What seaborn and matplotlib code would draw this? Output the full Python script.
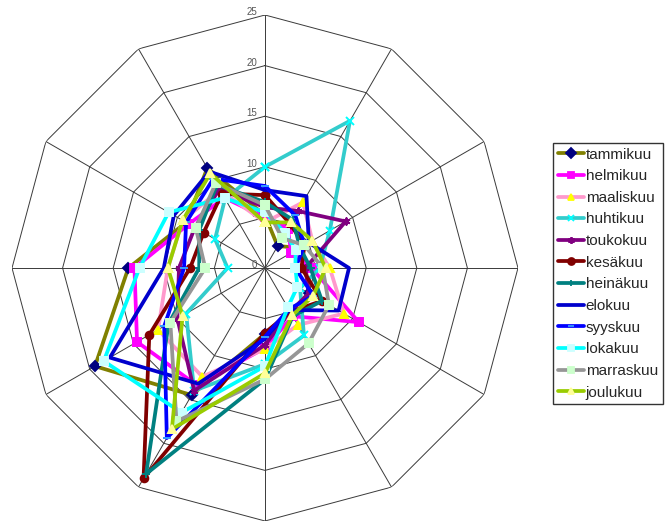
import numpy as np
import pandas as pd
import matplotlib
matplotlib.use("Agg")
import matplotlib.pyplot as plt
from matplotlib.lines import Line2D
from matplotlib.transforms import offset_copy
import seaborn as sns

sns.set_style("white")
plt.rcParams["font.family"] = ["Liberation Sans", "DejaVu Sans"]

# Twelve spokes, no category names shown
n_axes = 12
ring_ticks = [0, 5, 10, 15, 20, 25]

months = ["tammikuu", "helmikuu", "maaliskuu", "huhtikuu", "toukokuu", "kesäkuu",
          "heinäkuu", "elokuu", "syyskuu", "lokakuu", "marraskuu", "joulukuu"]

tammikuu = [5.2, 2.5, 4.0, 4.0, 5.0, 5.0, 6.5, 14.5, 19.4, 13.5, 9.0, 11.4]
helmikuu = [5.0, 4.5, 3.0, 4.6, 10.7, 5.5, 7.9, 13.4, 14.6, 12.9, 8.7, 8.0]
maaliskuu = [4.5, 7.5, 5.4, 6.4, 9.0, 6.5, 8.0, 12.4, 12.2, 9.6, 9.4, 8.9]
huhtikuu = [10.0, 16.8, 7.4, 5.4, 4.0, 7.7, 9.5, 14.0, 9.0, 3.7, 5.7, 7.9]
toukokuu = [6.0, 6.5, 9.2, 4.0, 5.0, 5.0, 7.6, 14.0, 10.0, 8.5, 8.0, 9.0]
kesakuu = [7.2, 5.0, 4.5, 3.6, 6.5, 5.0, 6.4, 24.0, 13.2, 7.4, 7.0, 8.5]
heinakuu = [6.5, 5.5, 4.0, 4.5, 6.5, 5.5, 11.0, 23.5, 11.0, 6.5, 7.5, 9.5]
elokuu = [7.7, 8.2, 5.0, 8.3, 8.4, 4.8, 7.0, 13.2, 17.7, 10.0, 10.4, 11.0]
syyskuu = [8.1, 6.0, 4.5, 3.0, 5.5, 4.7, 6.8, 19.4, 11.5, 8.0, 9.0, 10.2]
lokakuu = [5.5, 4.0, 3.5, 3.0, 3.7, 4.5, 9.7, 16.5, 18.4, 12.4, 11.0, 8.0]
marraskuu = [6.2, 3.4, 4.5, 5.7, 7.3, 8.6, 11.0, 17.5, 10.8, 5.9, 7.9, 9.7]
joulukuu = [4.5, 5.2, 5.4, 6.0, 5.5, 5.4, 10.4, 18.4, 9.4, 9.6, 9.4, 10.8]

series_values = [tammikuu, helmikuu, maaliskuu, huhtikuu, toukokuu, kesakuu,
                 heinakuu, elokuu, syyskuu, lokakuu, marraskuu, joulukuu]

line_colors = ["#808000", "#FF00FF", "#FF99CC", "#33CCCC", "#800080", "#800000",
               "#008080", "#0000CC", "#0000FF", "#00FFFF", "#969696", "#99CC00"]
marker_colors = ["#000080", "#FF00FF", "#FFFF00", "#00FFFF", "#800080", "#800000",
                 "#008080", "#0000CC", "#3399FF", "#CCFFFF", "#CCFFCC", "#FFFF99"]
marker_shapes = ["D", "s", "^", "x", (6, 2, 0), "o", "+", "None", "_", "s", "s", "^"]

angles = np.linspace(0, 2 * np.pi, n_axes, endpoint=False)
angles_closed = np.append(angles, 2 * np.pi)

fig = plt.figure(figsize=(6.66, 5.24), dpi=100)
ax = fig.add_axes([12 / 666, 3 / 524, 506 / 666, 506 / 524], projection="polar")
ax.set_theta_zero_location("N")
ax.set_theta_direction(-1)
ax.set_ylim(0, 25)
ax.grid(False)
ax.set_xticks([])
ax.set_yticks([])
ax.spines["polar"].set_visible(False)
ax.patch.set_alpha(0)

# Polygon rings and spokes
for r in ring_ticks[1:]:
    ax.plot(angles_closed, [r] * len(angles_closed), color="#3a3a3a", lw=0.7, zorder=1)
for a in angles:
    ax.plot([a, a], [0, 25], color="#3a3a3a", lw=0.7, zorder=1)

# Ring value labels along the top spoke
lbl_tr = offset_copy(ax.transData, fig=fig, x=-8, y=3, units="dots")
for r in ring_ticks:
    ax.text(0, r, str(r), transform=lbl_tr, ha="right", va="center",
            fontsize=7, color="#555555")

for name, vals, lc, mc, mk in zip(months, series_values, line_colors,
                                  marker_colors, marker_shapes):
    closed = list(vals) + [vals[0]]
    df = pd.DataFrame({"theta": angles_closed, "value": closed})
    sns.lineplot(data=df, x="theta", y="value", ax=ax, color=lc, lw=2.7,
                 sort=False, estimator=None, marker=mk, markersize=5.5,
                 markerfacecolor=mc, markeredgecolor=mc, markeredgewidth=1.4,
                 zorder=3)

ax.set_xlabel("")
ax.set_ylabel("")

handles = [Line2D([0], [0], color=lc, lw=2.7, marker=mk, markersize=5,
                  markerfacecolor=mc, markeredgecolor=mc, markeredgewidth=1.3)
           for lc, mc, mk in zip(line_colors, marker_colors, marker_shapes)]
fig.legend(handles, months, loc="upper left", bbox_to_anchor=(553 / 666, 1 - 143 / 524),
           fontsize=11, frameon=True, fancybox=False, edgecolor="black",
           handlelength=1.75, handletextpad=0.1, labelspacing=0.5,
           borderpad=0.3, borderaxespad=0)

fig.savefig("out.png", dpi=100, facecolor="white")
